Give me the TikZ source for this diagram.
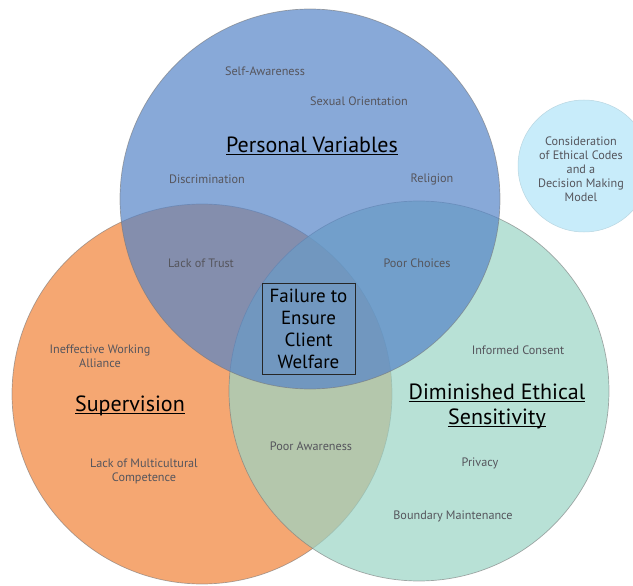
\documentclass[tikz,border=0pt]{standalone}
\usepackage{fontspec}
\setmainfont{PT Sans}
\usetikzlibrary{positioning}
\definecolor{personalBlue}{RGB}{85, 132, 199}
\definecolor{supervisionOrange}{RGB}{241, 129, 54}
\definecolor{sensitivityGreen}{RGB}{154, 212, 197}
\definecolor{codesBlue}{RGB}{200, 236, 250}
\definecolor{ringGray}{RGB}{120, 120, 120}
\definecolor{labelGray}{RGB}{85, 85, 92}

% underline sitting just under the baseline, descenders cross it
\newcommand{\headline}[1]{\setbox0\hbox{#1}\rlap{\rule[-2.8pt]{\wd0}{1pt}}\box0}

\begin{document}
\begin{tikzpicture}[
    x=1pt, y=-1pt,
    venn/.style={
        circle, draw=ringGray, draw opacity=0.6, line width=0.7pt,
        minimum size=380pt, inner sep=0pt, fill opacity=0.7
    },
    item/.style={font=\fontsize{12.2}{14}\selectfont, text=labelGray, align=center},
    heading/.style={font=\fontsize{22}{25}\selectfont, text=black, align=center},
    outcome/.style={
        rectangle, draw=black!85, line width=0.9pt, align=center,
        font=\fontsize{19}{22}\selectfont, minimum width=93pt, minimum height=91pt
    }
]
\useasboundingbox (0,0) rectangle (633,586);
\clip (0,0) rectangle (633,586);

% --- The three overlapping circles ------------------------------------------
\node[venn, fill=supervisionOrange] (supervision) at (202,394) {};
\node[venn, fill=sensitivityGreen] (sensitivity) at (419,391) {};
\node[venn, fill=personalBlue] (personal) at (310,199) {};

% --- Side circle (runs off the right edge) ----------------------------------
\node[circle, fill=codesBlue, draw=codesBlue!80!gray, line width=0.5pt,
      minimum size=132pt, inner sep=0pt] (codes) at (584,166) {};
\node[item] (codestext) at (581,169)
    {Consideration\\of Ethical Codes\\and a\\Decision Making\\Model};

% --- Personal variables -------------------------------------------------------
\node[heading] (personalhead) at (312,146) {\headline{Personal Variables}};
\node[item] (selfaware) at (265,71) {Self-Awareness};
\node[item] (orientation) at (359,101) {Sexual Orientation};
\node[item] (discrim) at (207,179) {Discrimination};
\node[item] (religion) at (432,179) {Religion};

% --- Supervision --------------------------------------------------------------
\node[heading] (supervisionhead) at (130,406) {\headline{Supervision}};
\node[item] (alliance) at (100,356) {Ineffective Working\\Alliance};
\node[item] (multicult) at (144,471) {Lack of Multicultural\\Competence};

% --- Diminished ethical sensitivity -------------------------------------------
\node[heading] (sensitivityhead) at (497,406)
    {\headline{Diminished Ethical}\\\headline{Sensitivity}};
\node[item] (consent) at (518,350) {Informed Consent};
\node[item] (privacy) at (480,463) {Privacy};
\node[item] (boundary) at (453,516) {Boundary Maintenance};

% --- Pairwise overlaps --------------------------------------------------------
\node[item] (trust) at (201,263) {Lack of Trust};
\node[item] (choices) at (417,263) {Poor Choices};
\node[item] (awareness) at (311,446) {Poor Awareness};

% --- Centre: all three --------------------------------------------------------
\node[outcome] (welfare) at (308.5,328.5) {Failure to\\Ensure\\Client\\Welfare};

\end{tikzpicture}
\end{document}
